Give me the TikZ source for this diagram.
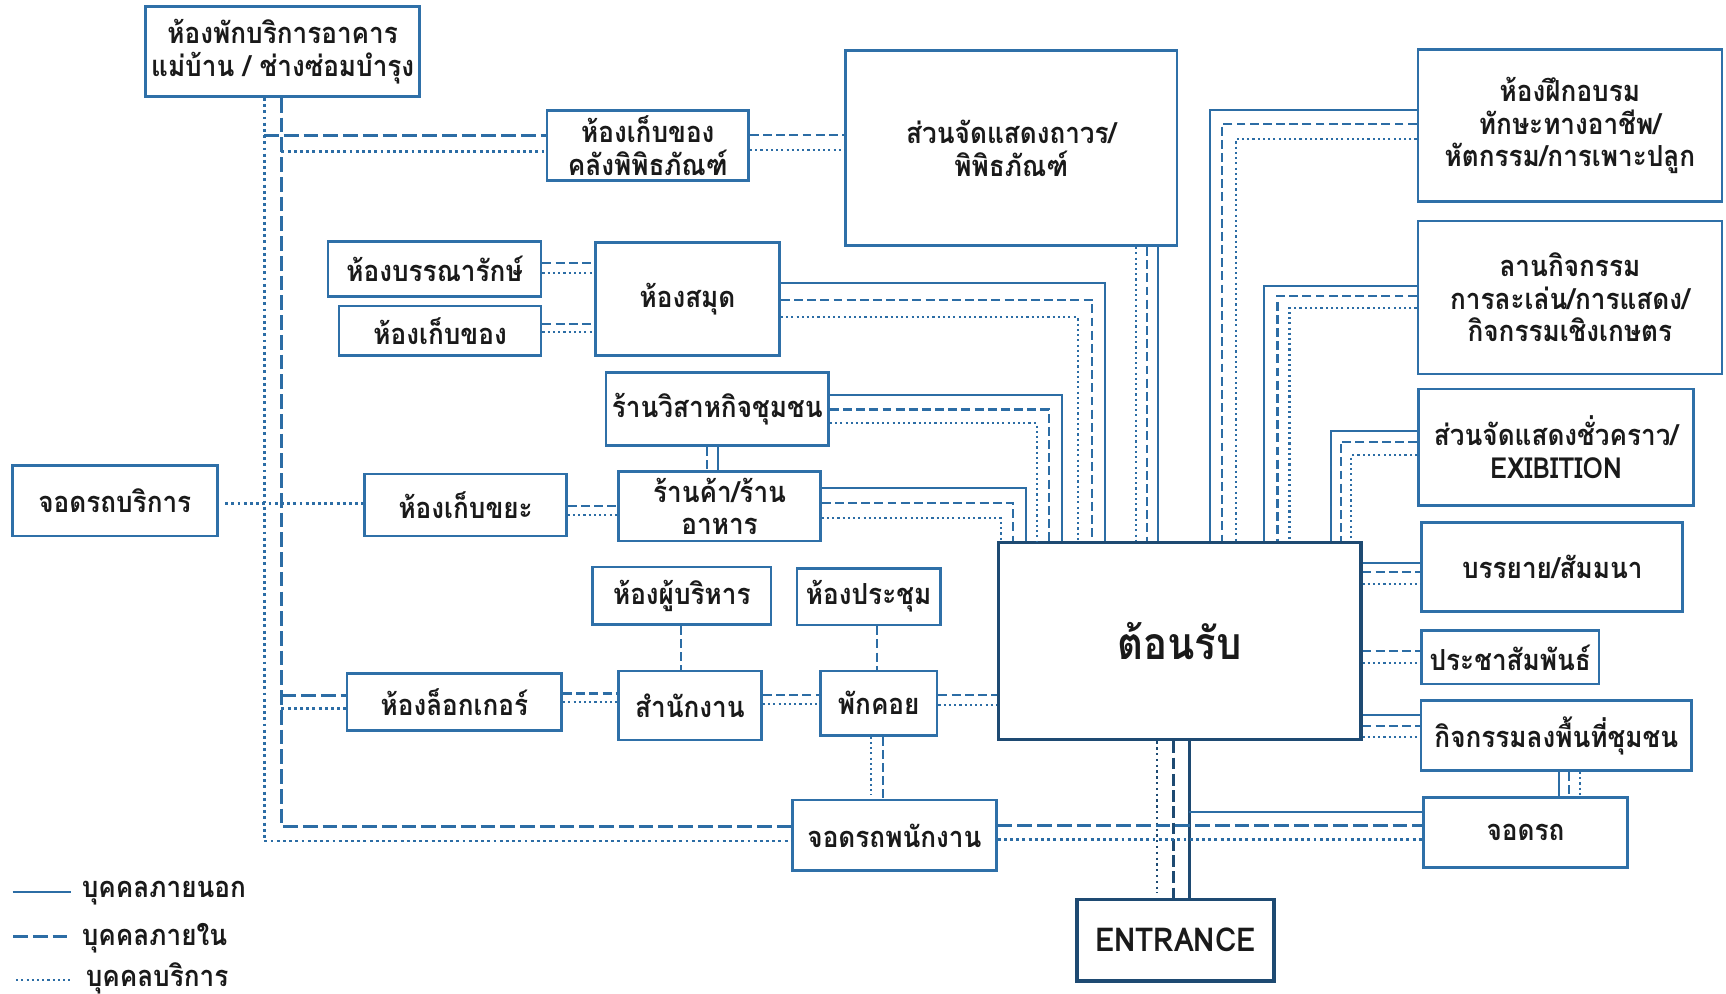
\documentclass[tikz,border=0pt]{standalone}
\usepackage{fontspec}
\newfontfamily\thaifont[Script=Thai, FakeStretch=0.9]{Loma}
\usepackage{xcolor}
\definecolor{boxblue}{HTML}{2F70A8}
\definecolor{lineblue}{HTML}{2C6DA5}
\definecolor{navy}{HTML}{1E4A72}
\definecolor{ink}{HTML}{1A1A1A}
\tikzset{
  room/.style={rectangle, draw=boxblue, line width=0.7pt, fill=white, text=ink, align=center, inner sep=0pt,
    font=\thaifont\bfseries\fontsize{7.5}{8.4}\selectfont},
  hub/.style={room, draw=navy, line width=0.9pt},
  legend/.style={anchor=west, text=ink, inner sep=0pt, font=\thaifont\bfseries\fontsize{7.5}{8.4}\selectfont},
  extline/.style={draw=lineblue, line width=0.5pt},
  intline/.style={draw=lineblue, line width=0.55pt, dash pattern=on 2.3pt off 1.1pt},
  svcline/.style={draw=lineblue, line width=0.55pt, dash pattern=on 0.55pt off 0.8pt},
  intwide/.style={draw=lineblue, line width=0.8pt, dash pattern=on 3.8pt off 1.3pt},
  svcwide/.style={draw=lineblue, line width=0.75pt, dash pattern=on 0.75pt off 0.85pt},
  extnavy/.style={draw=navy, line width=0.75pt},
  intnavy/.style={draw=navy, line width=0.8pt, dash pattern=on 3pt off 1.2pt},
  svcnavy/.style={draw=navy, line width=0.6pt, dash pattern=on 0.6pt off 0.9pt},
}
\begin{document}
\begin{tikzpicture}[x=0.01cm, y=-0.01cm]
    \useasboundingbox (0,0) rectangle (1568,903);

    % rooms, left part
    \node[room, minimum width=2.49cm, minimum height=0.815cm] (service) at (256.8,47) {ห้องพักบริการอาคาร\\แม่บ้าน / ช่างซ่อมบำรุง};
    \node[room, minimum width=1.83cm, minimum height=0.63cm] (store1) at (588.5,132.2) {ห้องเก็บของ\\คลังพิพิธภัณฑ์};
    \node[room, minimum width=1.935cm, minimum height=0.495cm] (librarian) at (394.8,244.3) {ห้องบรรณารักษ์};
    \node[room, minimum width=1.835cm, minimum height=0.45cm] (store2) at (399.8,300.5) {ห้องเก็บของ};
    \node[room, minimum width=1.67cm, minimum height=1.03cm] (library) at (624.6,271.6) {ห้องสมุด};
    \node[room, minimum width=2.02cm, minimum height=0.667cm] (sme) at (651.6,371.6) {ร้านวิสาหกิจชุมชน};
    \node[room, minimum width=1.83cm, minimum height=0.63cm] (shop) at (653.7,460) {ร้านค้า/ร้าน\\อาหาร};
    \node[room, minimum width=1.86cm, minimum height=0.64cm] (svcpark) at (104.3,455) {จอดรถบริการ};
    \node[room, minimum width=1.83cm, minimum height=0.564cm] (waste) at (423,458.8) {ห้องเก็บขยะ};
    \node[room, minimum width=1.62cm, minimum height=0.52cm] (exec) at (619.4,541.2) {ห้องผู้บริหาร};
    \node[room, minimum width=1.30cm, minimum height=0.515cm] (meeting) at (789.1,542) {ห้องประชุม};
    \node[room, minimum width=1.95cm, minimum height=0.52cm] (locker) at (412.8,637.8) {ห้องล็อกเกอร์};
    \node[room, minimum width=1.30cm, minimum height=0.626cm] (office) at (626.8,640.9) {สำนักงาน};
    \node[room, minimum width=1.06cm, minimum height=0.584cm] (lounge) at (798.3,638.8) {พักคอย};
    \node[room, minimum width=1.85cm, minimum height=0.643cm] (staffpark) at (812.6,758.9) {จอดรถพนักงาน};

    % rooms, right part
    \node[room, minimum width=3.01cm, minimum height=1.77cm] (museum) at (918.7,134.7) {ส่วนจัดแสดงถาวร/\\พิพิธภัณฑ์};
    \node[room, minimum width=2.76cm, minimum height=1.38cm] (train) at (1426.2,114) {ห้องฝึกอบรม\\ทักษะทางอาชีพ/\\หัตกรรม/การเพาะปลูก};
    \node[room, minimum width=2.76cm, minimum height=1.39cm] (plaza) at (1426.2,270.2) {ลานกิจกรรม\\การละเล่น/การแสดง/\\กิจกรรมเชิงเกษตร};
    \node[room, minimum width=2.50cm, minimum height=1.055cm] (expo) at (1413.6,406.2) {ส่วนจัดแสดงชั่วคราว/\\EXIBITION};
    \node[room, minimum width=2.37cm, minimum height=0.81cm] (lecture) at (1410.2,515.3) {บรรยาย/สัมมนา};
    \node[room, minimum width=1.61cm, minimum height=0.485cm] (pr) at (1372,597.2) {ประชาสัมพันธ์};
    \node[room, minimum width=2.46cm, minimum height=0.636cm] (outreach) at (1413.9,668.3) {กิจกรรมลงพื้นที่ชุมชน};
    \node[room, minimum width=1.856cm, minimum height=0.636cm] (park) at (1385.8,756.4) {จอดรถ};
    \node[hub, minimum width=3.29cm, minimum height=1.79cm, font=\thaifont\bfseries\fontsize{11.5}{13}\selectfont] (reception) at (1071.6,582.4) {ต้อนรับ};
    \node[hub, minimum width=1.79cm, minimum height=0.742cm, font=\thaifont\bfseries\fontsize{8.5}{10}\selectfont] (entrance) at (1067.8,854.1) {ENTRANCE};

    % service trunk on the left
    \coordinate (trunkS) at (240,0);
    \coordinate (trunkI) at (255.7,0);
    \draw[svcwide] (service.south -| trunkS) |- (staffpark.west |- 0,764);
    \draw[intwide] (service.south -| trunkI) |- (staffpark.west |- 0,751);
    \draw[intwide] (trunkS |- 0,123) -- (store1.west |- 0,123);
    \draw[svcwide] (trunkI |- 0,137.5) -- (store1.west |- 0,137.5);
    \draw[svcwide, shorten <=0.06cm] (svcpark.east |- 0,457.8) -- (waste.west |- 0,457.8);
    \draw[intwide] (trunkI |- 0,632) -- (locker.west |- 0,632);
    \draw[svcwide] (trunkI |- 0,643.5) -- (locker.west |- 0,643.5);

    % small links
    \draw[intline] (store1.east |- 0,123) -- (museum.west |- 0,123);
    \draw[svcline] (store1.east |- 0,136) -- (museum.west |- 0,136);
    \draw[intline] (librarian.east |- 0,239) -- (library.west |- 0,239);
    \draw[svcline] (librarian.east |- 0,248) -- (library.west |- 0,248);
    \draw[intline] (store2.east |- 0,294) -- (library.west |- 0,294);
    \draw[svcline] (store2.east |- 0,302) -- (library.west |- 0,302);
    \draw[intline] (sme.south -| 642.2,0) -- (shop.north -| 642.2,0);
    \draw[extline] (sme.south -| 652.6,0) -- (shop.north -| 652.6,0);
    \draw[intline] (waste.east |- 0,459.4) -- (shop.west |- 0,459.4);
    \draw[svcline] (waste.east |- 0,468) -- (shop.west |- 0,468);
    \draw[intline] (exec.south -| 618.4,0) -- (office.north -| 618.4,0);
    \draw[intline] (meeting.south -| 797,0) -- (lounge.north -| 797,0);
    \draw[intline] (locker.east |- 0,630) -- (office.west |- 0,630);
    \draw[svcline] (locker.east |- 0,638) -- (office.west |- 0,638);
    \draw[intline] (office.east |- 0,631) -- (lounge.west |- 0,631);
    \draw[svcline] (office.east |- 0,639.5) -- (lounge.west |- 0,639.5);
    \draw[intline] (lounge.east |- 0,631.4) -- (reception.west |- 0,631.4);
    \draw[svcline] (lounge.east |- 0,640.5) -- (reception.west |- 0,640.5);
    \draw[svcline] (lounge.south -| 791.6,0) -- (791.6,722);
    \draw[intline] (lounge.south -| 801.8,0) -- (staffpark.north -| 801.8,0);

    % into reception from the left
    \draw[extline] (library.east |- 0,257.4) -| (reception.north -| 1004,0);
    \draw[intline] (library.east |- 0,272.5) -| (reception.north -| 992.3,0);
    \draw[svcline] (library.east |- 0,288.3) -| (reception.north -| 979,0);
    \draw[extline] (sme.east |- 0,358.8) -| (reception.north -| 964.5,0);
    \draw[intline] (sme.east |- 0,372) -| (reception.north -| 953.2,0);
    \draw[svcline] (sme.east |- 0,384.6) -| (reception.north -| 941.8,0);
    \draw[extline] (shop.east |- 0,443.6) -| (reception.north -| 932.3,0);
    \draw[intline] (shop.east |- 0,457.2) -| (reception.north -| 920.4,0);
    \draw[svcline] (shop.east |- 0,470.5) -| (reception.north -| 909,0);
    \draw[svcline] (museum.south -| 1032.3,0) -- (reception.north -| 1032.3,0);
    \draw[intline] (museum.south -| 1041.7,0) -- (reception.north -| 1041.7,0);
    \draw[extline] (museum.south -| 1052,0) -- (reception.north -| 1052,0);

    % into reception from the right
    \draw[extline] (train.west |- 0,99.9) -| (reception.north -| 1099,0);
    \draw[intline] (train.west |- 0,112.6) -| (reception.north -| 1110,0);
    \draw[svcline] (train.west |- 0,126.6) -| (reception.north -| 1122.6,0);
    \draw[extline] (plaza.west |- 0,259.5) -| (reception.north -| 1148.7,0);
    \draw[intline] (plaza.west |- 0,268.9) -| (reception.north -| 1160.6,0);
    \draw[svcline] (plaza.west |- 0,280) -| (reception.north -| 1171.5,0);
    \draw[extline] (expo.west |- 0,391.2) -| (reception.north -| 1208.9,0);
    \draw[intline] (expo.west |- 0,401.2) -| (reception.north -| 1217.9,0);
    \draw[svcline] (expo.west |- 0,413.6) -| (reception.north -| 1227.7,0);
    \draw[extline] (reception.east |- 0,511.1) -- (lecture.west |- 0,511.1);
    \draw[intline] (reception.east |- 0,519.9) -- (lecture.west |- 0,519.9);
    \draw[svcline] (reception.east |- 0,530.5) -- (lecture.west |- 0,530.5);
    \draw[intline] (reception.east |- 0,591.1) -- (pr.west |- 0,591.1);
    \draw[svcline] (reception.east |- 0,602.6) -- (pr.west |- 0,602.6);
    \draw[extline] (reception.east |- 0,649.5) -- (outreach.west |- 0,649.5);
    \draw[intline] (reception.east |- 0,659.2) -- (outreach.west |- 0,659.2);
    \draw[svcline] (reception.east |- 0,669.5) -- (outreach.west |- 0,669.5);
    \draw[extline] (outreach.south -| 1416.4,0) -- (park.north -| 1416.4,0);
    \draw[intline] (outreach.south -| 1425.4,0) -- (park.north -| 1425.4,0);
    \draw[svcline] (outreach.south -| 1435.6,0) -- (park.north -| 1435.6,0);

    % entrance and parking
    \draw[svcnavy] (reception.south -| 1051.2,0) -- (1051.2,811.5);
    \draw[intnavy] (reception.south -| 1065.7,0) -- (entrance.north -| 1065.7,0);
    \draw[extnavy] (reception.south -| 1080.2,0) -- (entrance.north -| 1080.2,0);
    \draw[extline] (1080.2,738) -- (park.west |- 0,738);
    \draw[intwide] (staffpark.east |- 0,750) -- (park.west |- 0,750);
    \draw[svcwide] (staffpark.east |- 0,762.5) -- (park.west |- 0,762.5);

    % legend
    \node[legend] (lgext) at (73.7,811) {บุคคลภายนอก};
    \node[legend] (lgint) at (73.7,852) {บุคคลภายใน};
    \node[legend] (lgsvc) at (77.2,888.5) {บุคคลบริการ};
    \draw[extline] (11.5,810.6) -- (64.3,810.6);
    \draw[intwide] (12,851) -- (65,851);
    \draw[svcline] (14.6,890.3) -- (64.4,890.3);
\end{tikzpicture}
\end{document}
